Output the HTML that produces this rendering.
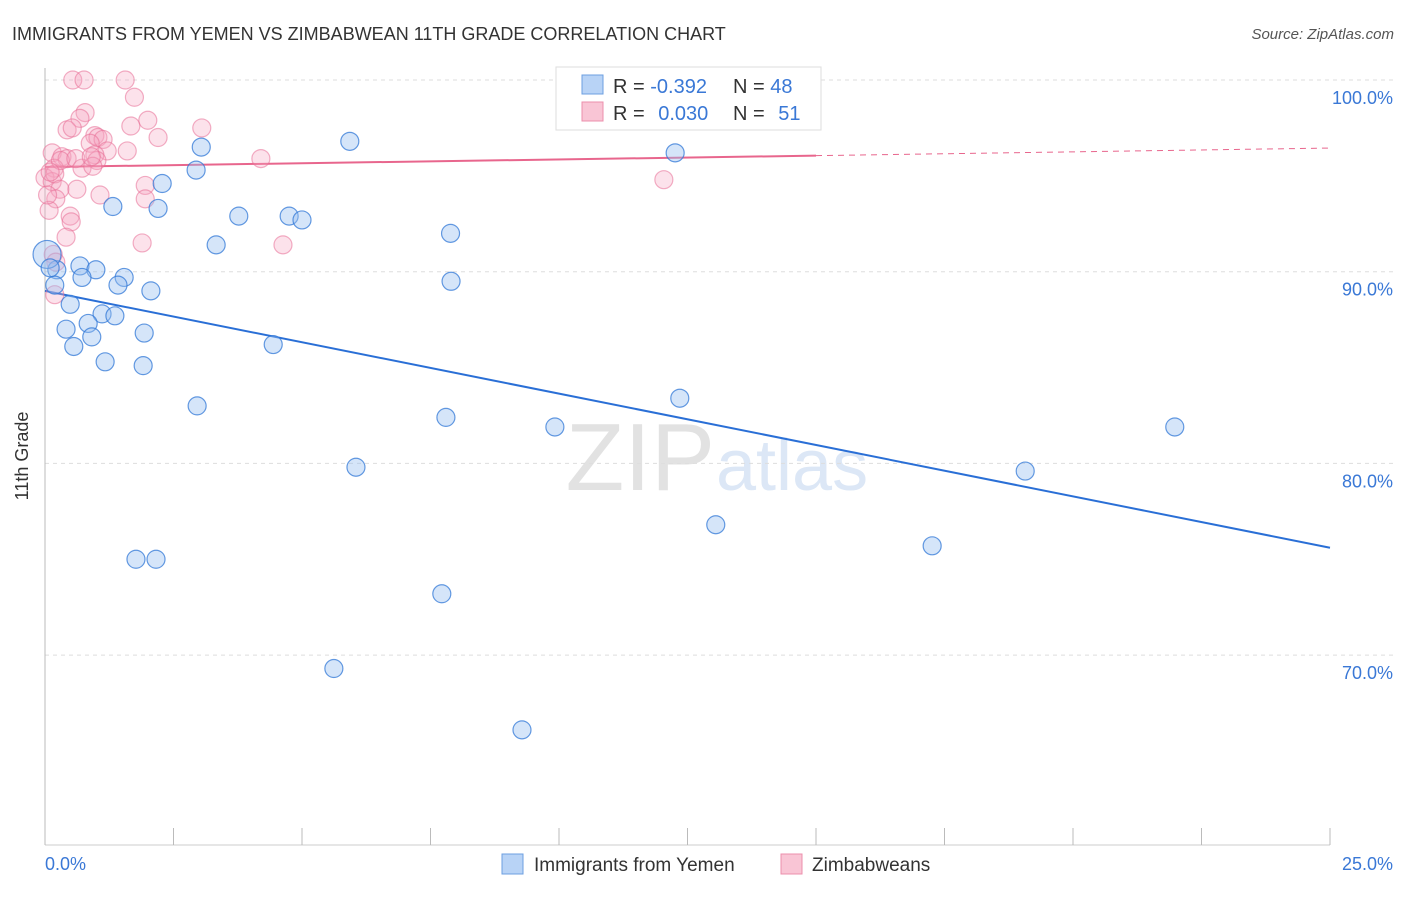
<!DOCTYPE html>
<html><head><meta charset="utf-8">
<style>
body{margin:0;background:#fff;font-family:"Liberation Sans",sans-serif;}
svg text{font-family:"Liberation Sans",sans-serif;}
</style></head>
<body>
<svg id="chart" width="1406" height="892" xmlns="http://www.w3.org/2000/svg">
<text x="12" y="40" font-size="18" fill="#333">IMMIGRANTS FROM YEMEN VS ZIMBABWEAN 11TH GRADE CORRELATION CHART</text>
<text x="1394" y="39" font-size="15" fill="#555" font-style="italic" text-anchor="end">Source: ZipAtlas.com</text>
<text x="715" y="490" font-size="96" fill="#e2e2e2" font-family="Liberation Serif" text-anchor="end">ZIP</text>
<text x="716" y="490" font-size="72" fill="#dce7f6">atlas</text>
<g id="grid"></g>
<line x1="45" y1="68" x2="45" y2="845" stroke="#bbb"/>
<line x1="45" y1="845" x2="1330" y2="845" stroke="#ccc"/>
<g id="xticks"></g>
<text x="28" y="456" font-size="18" fill="#333" transform="rotate(-90 28 456)" text-anchor="middle">11th Grade</text>
<text x="45" y="870" font-size="18" fill="#3a78d6">0.0%</text>
<text x="1393" y="870" font-size="18" fill="#3a78d6" text-anchor="end">25.0%</text>
<g id="lines"></g>
<g id="points"></g>
<g>
<rect x="556" y="67" width="265" height="63" fill="#fff" stroke="#ddd"/>
<rect x="582" y="75" width="21" height="19" fill="#b8d3f6" stroke="#6c9fe0"/>
<rect x="582" y="102" width="21" height="19" fill="#f9c5d5" stroke="#ec8fac"/>
<text x="613" y="93" font-size="20" fill="#333">R = <tspan fill="#3a78d6">-0.392</tspan></text>
<text x="733" y="93" font-size="20" fill="#333">N = <tspan fill="#3a78d6">48</tspan></text>
<text x="613" y="120" font-size="20" fill="#333">R = <tspan fill="#3a78d6" dx="8">0.030</tspan></text>
<text x="733" y="120" font-size="20" fill="#333">N = <tspan fill="#3a78d6" dx="8">51</tspan></text>
</g>
<g>
<rect x="502" y="854" width="21" height="20" fill="#b8d3f6" stroke="#6c9fe0"/>
<text x="534" y="871" font-size="19" fill="#333">Immigrants from Yemen</text>
<rect x="781" y="854" width="21" height="20" fill="#f9c5d5" stroke="#ec8fac"/>
<text x="812" y="871" font-size="19" fill="#333">Zimbabweans</text>
</g>
</svg>
<script>
const yTicks=[100,90,80,70];
const yTickLabels=["100.0%","90.0%","80.0%","70.0%"];
const xTicks=[0,2.5,5,7.5,10,12.5,15,17.5,20,22.5,25];
const yemenX=[5.93,3.04,12.26,2.28,2.94,1.32,2.20,3.77,4.75,5.00,3.33,7.89,0.23,0.68,0.99,0.72,1.54,1.42,2.06,7.90,0.19,0.49,1.11,1.36,0.84,0.41,0.91,1.93,0.56,4.44,1.17,1.91,2.96,7.80,12.35,9.92,21.98,6.05,19.07,13.05,17.26,1.77,2.16,7.72,5.62,9.28,0.04,0.10];
const yemenY=[96.8,96.5,96.2,94.6,95.3,93.4,93.3,92.9,92.9,92.7,91.4,92.0,90.1,90.3,90.1,89.7,89.7,89.3,89.0,89.5,89.3,88.3,87.8,87.7,87.3,87.0,86.6,86.8,86.1,86.2,85.3,85.1,83.0,82.4,83.4,81.9,81.9,79.8,79.6,76.8,75.7,75.0,75.0,73.2,69.3,66.1,90.9,90.2];
const zimX=[0.54,0.76,1.56,1.74,0.78,0.68,0.43,0.53,2.00,1.67,3.05,0.97,1.03,2.20,1.13,0.88,0.14,1.60,1.21,0.97,0.33,0.43,1.01,4.20,0.18,0.72,0.93,0.0,0.14,0.19,1.95,12.04,0.29,0.62,1.07,0.21,1.95,0.08,0.49,0.51,0.41,1.89,4.63,0.16,0.21,0.19,0.05,0.30,0.60,0.90,0.10];
const zimY=[100,100,100,99.1,98.3,98.0,97.4,97.5,97.9,97.6,97.5,97.1,97.0,97.0,96.9,96.7,96.2,96.3,96.3,96.1,96.0,95.9,95.8,95.9,95.4,95.4,95.5,94.9,94.7,95.1,94.5,94.8,94.3,94.3,94.0,93.8,93.8,93.2,92.9,92.6,91.8,91.5,91.4,90.9,90.5,88.8,94.0,95.8,95.9,96.0,95.2];
const yemenTrend=[89.0,75.6];
const zimTrend=[95.46,96.45];
const xs=v=>45+v/25*1285;
const ys=v=>80+(100-v)*19.17;
const NS="http://www.w3.org/2000/svg";
function mk(tag,attrs,parent){const e=document.createElementNS(NS,tag);for(const k in attrs)e.setAttribute(k,attrs[k]);parent.appendChild(e);return e;}
const grid=document.getElementById('grid');
yTicks.forEach((t,i)=>{
 const l=mk('line',{x1:45,x2:1393,y1:ys(t),y2:ys(t),stroke:'#ddd','stroke-dasharray':'4,4'},grid);
 
 
 const tx=mk('text',{x:1393,y:ys(t)+24,'font-size':18,fill:'#3a78d6','text-anchor':'end'},grid);
 tx.textContent=yTickLabels[i];
 
 
});
const xt=document.getElementById('xticks');
xTicks.forEach(t=>{
 const l=mk('line',{x1:xs(t),x2:xs(t),y1:828,y2:845,stroke:'#bbb'},xt);
 
 
});
const lines=document.getElementById('lines');
let l1=mk('line',{x1:xs(0),y1:ys(yemenTrend[0]),x2:xs(25),y2:ys(yemenTrend[1]),stroke:'#2a6fd6','stroke-width':2},lines);


const zAt=v=>zimTrend[0]+(zimTrend[1]-zimTrend[0])*v/25;
let l2=mk('line',{x1:xs(0),y1:ys(zAt(0)),x2:xs(15),y2:ys(zAt(15)),stroke:'#e8668d','stroke-width':2},lines);


let l3=mk('line',{x1:xs(15),y1:ys(zAt(15)),x2:xs(25),y2:ys(zAt(25)),stroke:'#e8668d','stroke-width':1,'stroke-dasharray':'6,5'},lines);


const pts=document.getElementById('points');
zimX.forEach((x,i)=>{
 const c=mk('circle',{cx:xs(x),cy:ys(zimY[i]),r:9,fill:'rgba(246,165,192,0.32)',stroke:'rgba(232,110,150,0.55)','stroke-width':1.2},pts);
 
 
});
yemenX.forEach((x,i)=>{
 const c=mk('circle',{cx:xs(x),cy:ys(yemenY[i]),r:i==46?14:9,fill:'rgba(150,190,240,0.4)',stroke:'rgba(50,120,215,0.75)','stroke-width':1.2},pts);
 
 
});
</script>
</body></html>
